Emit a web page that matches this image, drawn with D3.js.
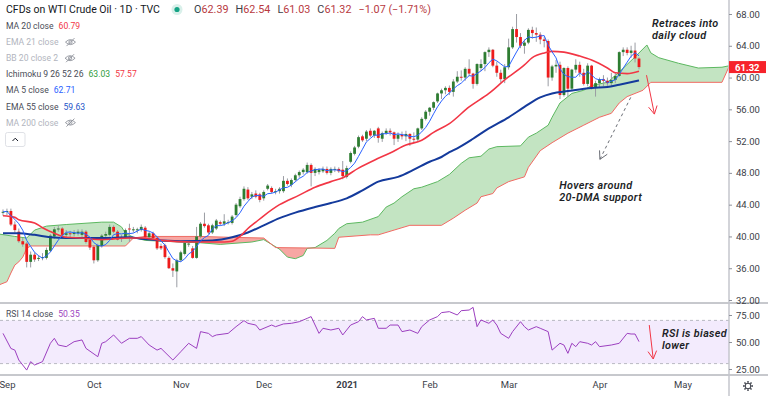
<!DOCTYPE html>
<html>
<head>
<meta charset="utf-8">
<script src="https://cdn.jsdelivr.net/npm/d3@7"></script>
<style>
  body { margin: 0; background: #fff; }
  svg text { font-family: Roboto, "Noto Sans", sans-serif; }
</style>
</head>
<body>
<svg id="chart" width="768" height="396"></svg>
<script>
// ---- data (bar index 0 = 31 Aug 2020, 161 = 21 Apr 2021) ----
// [open, high, low, close]
const candles = [
  [43.0,43.4,42.6,43.1],[43.1,43.5,42.7,43.2],[43.2,43.5,41.3,41.5],[41.5,41.9,40.5,40.8],[40.6,41.0,39.2,39.4],
  [39.4,39.8,38.7,39.0],[39.1,39.3,36.1,36.8],[36.8,38.1,36.1,37.7],[37.7,38.0,36.8,37.1],[37.2,37.6,36.9,37.3],
  [37.3,37.9,37.0,37.4],[37.3,38.6,37.1,38.3],[38.2,40.3,38.0,40.1],[40.0,41.2,39.7,40.9],[40.9,41.4,40.6,41.0],
  [41.0,41.2,40.0,40.2],[40.2,40.8,39.8,40.4],[40.4,40.7,39.9,40.3],[40.3,40.8,40.0,40.5],[40.4,40.9,40.1,40.6],
  [40.2,40.9,39.9,40.6],[40.6,40.8,39.1,39.3],[39.6,39.9,38.3,38.6],[38.7,38.9,36.6,37.0],[37.0,39.1,36.8,38.9],
  [38.8,40.3,38.6,40.1],[40.1,40.6,39.7,40.3],[40.2,41.5,40.0,41.2],[41.2,41.4,40.4,40.6],[40.6,40.8,39.5,39.6],
  [39.7,40.2,39.3,39.9],[39.9,41.0,39.7,40.8],[41.0,41.6,39.3,40.9],[40.9,41.2,40.5,40.9],[40.8,41.1,40.4,40.9],
  [40.8,41.5,40.6,41.2],[41.1,41.3,39.7,39.9],[39.9,40.6,39.6,40.4],[40.4,40.6,39.6,39.8],[39.8,40.0,38.3,38.5],
  [38.8,39.1,38.3,38.5],[38.9,39.1,37.2,37.4],[37.3,37.5,35.9,36.0],[36.0,36.6,34.9,35.7],[35.6,37.2,33.6,37.0],
  [37.0,38.2,36.8,38.0],[37.8,39.4,37.6,39.2],[39.0,39.4,38.7,39.1],[38.5,38.8,37.2,37.3],[37.3,41.2,37.2,40.0],
  [40.0,41.8,39.8,41.6],[41.6,43.0,41.1,41.3],[41.4,41.6,40.3,40.5],[40.5,41.6,40.3,41.4],[41.0,42.2,40.8,42.0],
  [41.8,42.0,41.4,41.6],[41.6,42.8,41.3,41.9],[41.8,42.1,41.5,41.8],[41.7,42.7,41.5,42.5],[42.7,44.2,42.5,44.0],
  [43.8,45.0,43.6,44.7],[44.7,46.3,44.5,46.0],[45.9,46.2,44.6,44.8],[45.0,45.6,44.7,45.3],[45.4,45.8,44.8,45.0],
  [45.3,45.5,44.3,44.6],[44.8,45.8,44.5,45.6],[46.0,46.6,45.8,46.4],[46.1,46.3,45.4,45.6],[45.6,46.0,45.3,45.7],
  [45.7,46.2,45.4,46.0],[45.7,47.6,45.5,47.0],[47.0,47.3,46.4,46.6],[46.5,47.3,46.2,47.1],[47.1,47.9,46.9,47.7],
  [47.7,48.3,47.4,48.1],[48.1,48.6,47.8,48.4],[48.1,49.3,47.9,49.0],[49.0,49.2,46.3,48.0],[48.0,48.7,47.6,48.5],
  [48.1,48.6,47.8,48.4],[48.2,48.8,48.0,48.5],[48.5,48.8,47.8,48.0],[48.0,48.7,47.7,48.5],[48.4,48.8,48.1,48.5],
  [48.5,48.7,48.0,48.2],[48.4,49.5,47.2,47.6],[47.5,48.9,47.3,48.6],[49.4,50.7,49.2,50.5],[50.4,51.4,50.2,51.2],
  [51.3,52.7,51.1,52.5],[52.6,52.8,51.9,52.1],[52.3,53.4,52.0,53.2],[53.3,53.6,52.5,52.7],[52.7,53.4,52.4,53.3],
  [53.6,53.8,51.8,52.4],[52.3,53.2,51.9,53.0],[53.0,53.6,52.8,53.3],[53.3,53.6,52.7,53.1],[53.1,53.2,51.5,52.3],
  [52.3,53.1,51.9,52.8],[52.8,53.2,52.2,52.6],[52.6,53.3,52.0,52.9],[52.9,53.0,51.4,52.3],[52.3,53.1,51.8,52.2],
  [52.2,53.7,51.9,53.6],[53.6,55.0,53.4,54.8],[54.8,55.9,54.6,55.7],[55.7,56.3,55.2,56.2],[56.2,57.0,55.9,56.9],
  [57.0,58.1,56.8,58.0],[58.0,58.6,57.3,58.4],[58.4,58.9,57.9,58.7],[58.7,59.0,57.8,58.2],[58.2,59.8,57.6,59.5],
  [59.5,60.8,59.3,60.1],[60.1,60.9,59.6,60.0],[60.0,61.3,59.6,61.1],[61.1,62.3,60.2,60.5],[60.5,60.6,58.6,59.2],
  [59.2,61.8,59.0,61.7],[61.2,62.3,60.8,61.7],[61.7,63.3,60.8,63.2],[63.2,63.8,62.6,63.5],[63.5,63.6,61.3,61.5],
  [61.5,62.0,60.1,60.6],[60.6,61.0,59.4,59.8],[59.8,61.7,59.3,61.3],[61.3,64.9,61.0,63.8],[63.8,66.4,63.6,66.1],
  [66.1,68.0,64.4,65.1],[65.1,65.6,63.7,64.0],[64.0,64.8,63.0,64.4],[64.4,66.2,64.2,66.0],[66.0,66.4,64.9,65.6],
  [65.6,66.3,64.5,65.4],[65.4,65.7,64.2,64.8],[64.8,65.1,63.8,64.6],[64.6,64.8,58.9,60.0],[60.0,61.6,59.6,61.4],
  [61.4,62.2,60.6,61.6],[61.6,62.0,57.3,57.8],[57.8,61.3,57.6,61.2],[61.2,61.4,57.6,58.6],[58.6,61.1,58.3,61.0],
  [61.0,62.3,60.6,61.6],[61.6,62.0,60.1,60.6],[60.6,61.1,59.0,59.2],[59.2,61.8,58.9,61.5],[61.5,61.6,58.5,58.7],
  [58.7,59.6,57.6,59.3],[59.3,60.0,58.8,59.8],[59.8,60.3,58.9,59.6],[59.6,60.0,58.8,59.3],[59.3,60.6,58.9,59.7],
  [59.7,60.6,59.3,60.2],[60.2,63.3,60.1,63.2],[63.2,63.8,62.7,63.5],[63.5,63.8,62.8,63.1],[63.1,64.0,62.5,63.4],
  [63.4,64.4,61.9,62.4],[62.39,62.54,61.03,61.32]
];

// [bar, value]
const ma20 = [[0,42.6],[3,42.4],[4,42.1],[8,41.7],[10,41.1],[13,40.4],[16,39.9],[20,39.8],[25,39.6],[28,39.7],
  [32,39.8],[35,39.8],[40,39.5],[48,39.3],[56,39.3],[58,39.4],[60,40.0],[62,41.0],[64,41.8],[66,42.6],[70,44.0],
  [75,45.2],[79,46.2],[83,46.9],[86,47.4],[90,48.6],[94,49.6],[98,50.5],[102,51.5],[106,52.1],[109,53.1],[113,54.2],
  [118,56.3],[123,58.0],[127,59.7],[132,61.6],[134,62.5],[137,63.1],[139,63.3],[142,63.2],[146,62.7],[149,62.2],
  [153,61.2],[155,60.6],[158,60.5],[161,60.79]];

const ema55 = [[0,40.4],[4,40.4],[8,40.2],[12,39.9],[16,39.8],[25,39.8],[32,39.9],[35,39.7],[45,39.4],[53,39.5],
  [58,39.9],[62,40.5],[66,41.4],[70,42.3],[74,43.0],[79,43.7],[83,44.2],[87,44.8],[91,45.8],[95,46.9],[100,47.5],
  [104,48.4],[108,49.4],[111,50.0],[113,50.6],[115,51.1],[119,52.3],[123,53.6],[128,55.0],[132,56.3],[136,57.5],
  [139,58.0],[143,58.3],[149,58.7],[153,58.8],[156,59.1],[161,59.63]];

// Ichimoku leading spans, already shifted 26 bars forward
const spanA = [[-1,40.3],[3,40.0],[6,39.8],[8,40.8],[11,41.3],[16,41.5],[25,41.8],[28,41.8],[30,41.2],[31,40.4],
  [33,39.9],[36,39.5],[45,39.3],[50,39.2],[55,39.0],[63,39.3],[66,39.6],[68,39.0],[70,38.4],[72,37.4],[74,37.2],
  [76,37.6],[77,38.5],[79,38.6],[82,39.5],[84,40.4],[85,41.0],[87,41.6],[91,41.8],[95,42.5],[97,43.7],[99,44.2],
  [101,45.0],[104,46.0],[106,46.2],[110,46.9],[113,47.8],[116,49.2],[118,49.9],[121,50.1],[123,51.0],[125,51.3],
  [131,51.4],[133,52.5],[135,53.0],[138,54.0],[139,55.0],[141,56.8],[144,58.0],[147,58.4],[149,59.0],[153,59.4],
  [156,60.7],[160,62.6],[163,64.1],[164,63.1],[166,62.5],[171,61.8],[176,61.2],[182,61.3],[184,61.5],[187,61.5]];

const spanB = [[-1,33.9],[1,34.3],[2,35.4],[3,36.4],[4,36.8],[5,37.4],[6,38.5],[7,38.8],[31,38.8],[33,39.8],
  [36,40.0],[50,40.0],[57,39.9],[66,39.8],[69,38.6],[84,38.5],[85,39.9],[93,40.2],[95,40.2],[99,40.8],[103,41.4],
  [111,41.4],[114,42.3],[117,43.3],[120,44.2],[121,45.0],[124,45.4],[125,46.1],[128,46.9],[132,47.5],[133,48.7],
  [136,50.8],[139,51.8],[143,53.0],[147,54.0],[151,55.0],[154,55.5],[156,56.8],[158,57.6],[162,58.4],[164,59.4],
  [182,59.4],[184,61.6],[187,61.6]];

const rsi = [[0,58],[2,44],[3,42.5],[4,33.3],[6,24],[7,31.8],[8,28.7],[10,31.8],[12,48.8],[13,53.4],[14,47.2],
  [16,45.7],[18,50.3],[20,51.9],[21,44.1],[24,36.4],[25,48.8],[26,50.3],[28,56.5],[30,48.8],[32,53.4],[34,53.4],
  [35,55],[37,47.2],[39,42.5],[40,44.1],[43,33.3],[45,41],[47,48.8],[49,44.1],[50,59.6],[52,58],[53,55],[54,56.5],
  [57,58],[59,64.2],[61,69.8],[62,67.3],[64,65.7],[65,61.1],[68,65.7],[69,64.2],[71,66.7],[73,67.3],[75,68.8],
  [77,71.9],[78,73.5],[80,58],[81,62.7],[83,61.1],[85,62.7],[86,56.5],[88,65.7],[90,68.8],[91,73.5],[92,70.4],
  [94,71.9],[95,62.7],[97,62.7],[98,65.7],[100,65.7],[101,59.6],[103,61.1],[105,58],[106,64.2],[108,70.4],
  [110,73.5],[111,77.2],[113,78.1],[115,75],[116,79],[118,79.6],[119,82.1],[120,64.2],[121,70.4],[123,67.3],
  [124,70.4],[125,65.7],[126,58],[128,53.4],[129,59.6],[131,68.8],[132,64.2],[133,61.1],[135,64.2],[136,62.7],
  [138,59.6],[139,42.5],[141,48.8],[142,47.2],[143,39.5],[144,48.8],[145,45.7],[146,50.3],[148,48.8],[149,47.2],
  [150,50.3],[151,45.7],[154,47.2],[156,48.8],[158,58],[159,57.4],[160,57.4],[161,50.35]];

const priceTicks = [32, 36, 40, 44, 48, 52, 56, 60, 64, 68];
const rsiTicks = [25, 50, 75];
const monthLabels = ["Sep", "Oct", "Nov", "Dec", "2021", "Feb", "Mar", "Apr", "May"];
const monthBars = [1, 23, 45, 66, 87, 108, 128, 151, 172];
const lastClose = 61.32;

const legendRows = [
  {label: "MA 20 close", values: [["60.79", "#f23645"]]},
  {label: "EMA 21 close", hidden: true},
  {label: "BB 20 close 2", hidden: true},
  {label: "Ichimoku 9 26 52 26", values: [["63.03", "#2e9c3a"], ["57.57", "#f23645"]]},
  {label: "MA 5 close", values: [["62.71", "#2962ff"]]},
  {label: "EMA 55 close", values: [["59.63", "#2454c8"]]},
  {label: "MA 200 close", hidden: true}
];
const ohlc = [["O", "62.39"], ["H", "62.54"], ["L", "61.03"], ["C", "61.32"], ["", "\u22121.07 (\u22121.71%)"]];

// annotations, in [bar, price] / [bar, rsi]
const retraceArrow = [[162.9, 60.3], [164.9, 55.4]];
const hoverArrow = [[158.9, 57.5], [151.1, 49.7]];
const rsiArrow = [[163.6, 65.7], [164.6, 34.3]];
const retraceText = {at: [164.3, 66.4], lines: ["Retraces into", "daily cloud"]};
const hoverText = {at: [140.8, 46.0], lines: ["Hovers around", "20-DMA support"]};
const rsiText = {at: [166.8, 55.0], lines: ["RSI is biased", "lower"]};

// ---- drawing ----
const W = 768, H = 396;
const axisX = 729;
const up = "#2e7d32", down = "#ee1c1c";
const svg = d3.select("#chart");

const x = d3.scaleLinear().domain([0, candles.length - 1]).range([3, 639]);
const y = d3.scaleLinear().domain([32, 68]).range([300, 14]);
const yr = d3.scaleLinear().domain([25, 75]).range([369, 315]);

const defs = svg.append("defs");
defs.append("clipPath").attr("id", "clip-price")
  .append("rect").attr("x", 0).attr("y", 0).attr("width", axisX).attr("height", 302);
defs.append("clipPath").attr("id", "clip-rsi")
  .append("rect").attr("x", 0).attr("y", 304).attr("width", axisX).attr("height", 70);

// Ichimoku cloud: one polygon, coloured by which side of span B it lies on
const ptsA = spanA.map(d => [x(d[0]), y(d[1])]);
const ptsB = spanB.map(d => [x(d[0]), y(d[1])]);
const xl = x(-2), xr = x(190);
const cloudPath = "M" + ptsA.join("L") + "L" + ptsB.slice().reverse().join("L") + "Z";
defs.append("clipPath").attr("id", "above-b")
  .append("path").attr("d", "M" + ptsB.join("L") + `L${xr},-50L${xl},-50Z`);
defs.append("clipPath").attr("id", "below-b")
  .append("path").attr("d", "M" + ptsB.join("L") + `L${xr},${H + 50}L${xl},${H + 50}Z`);

const gp = svg.append("g").attr("clip-path", "url(#clip-price)");
gp.append("g").attr("clip-path", "url(#above-b)")
  .append("path").attr("d", cloudPath).attr("fill", "#c3e4c2");
gp.append("g").attr("clip-path", "url(#below-b)")
  .append("path").attr("d", cloudPath).attr("fill", "#f7a7a3");

const line = d3.line().x(d => x(d[0])).y(d => y(d[1]));
gp.append("path").attr("d", line(spanA)).attr("fill", "none").attr("stroke", "#5cb860").attr("stroke-width", 1);
gp.append("path").attr("d", line(spanB)).attr("fill", "none").attr("stroke", "#ef6b63").attr("stroke-width", 1);

// candles
const bw = 2.8;
gp.append("g").selectAll("line").data(candles).join("line")
  .attr("x1", (d, i) => x(i)).attr("x2", (d, i) => x(i))
  .attr("y1", d => y(d[1])).attr("y2", d => y(d[2]))
  .attr("stroke", "#9a9ca3").attr("stroke-width", 1);
gp.append("g").selectAll("rect").data(candles).join("rect")
  .attr("x", (d, i) => x(i) - bw / 2).attr("width", bw)
  .attr("y", d => y(Math.max(d[0], d[3])))
  .attr("height", d => Math.max(1, Math.abs(y(d[0]) - y(d[3]))))
  .attr("fill", d => d[3] >= d[0] ? up : down);

// moving averages
const smooth = d3.line().x(d => x(d[0])).y(d => y(d[1])).curve(d3.curveMonotoneX);
gp.append("path").attr("d", smooth(ema55)).attr("fill", "none").attr("stroke", "#143a9c").attr("stroke-width", 2);
gp.append("path").attr("d", smooth(ma20)).attr("fill", "none").attr("stroke", "#f23645").attr("stroke-width", 1.6);
const closes = candles.map(d => d[3]);
const ma5 = closes.map((c, i) => [i, d3.mean(closes.slice(Math.max(0, i - 4), i + 1))]);
gp.append("path").attr("d", line(ma5)).attr("fill", "none").attr("stroke", "#2962ff").attr("stroke-width", 1);

// RSI pane
const gr = svg.append("g").attr("clip-path", "url(#clip-rsi)");
gr.append("rect").attr("x", 0).attr("width", axisX)
  .attr("y", yr(70)).attr("height", yr(30) - yr(70)).attr("fill", "#f3ebfd");
[70, 30].forEach(v => gr.append("line").attr("x1", 0).attr("x2", axisX).attr("y1", yr(v)).attr("y2", yr(v))
  .attr("stroke", "#a8aab3").attr("stroke-dasharray", "3,3").attr("stroke-width", 0.8));
gr.append("path").attr("d", d3.line().x(d => x(d[0])).y(d => yr(d[1]))(rsi))
  .attr("fill", "none").attr("stroke", "#9c3fc0").attr("stroke-width", 1);

// frame
svg.append("line").attr("x1", 0).attr("x2", W).attr("y1", 303).attr("y2", 303).attr("stroke", "#8f929b");
svg.append("line").attr("x1", 0).attr("x2", W).attr("y1", 375).attr("y2", 375).attr("stroke", "#8f929b");
svg.append("line").attr("x1", axisX).attr("x2", axisX).attr("y1", 0).attr("y2", H).attr("stroke", "#c4c6cc").attr("stroke-width", 1.5);

// axes
function styleAxis(g) {
  g.select(".domain").remove();
  g.selectAll("line").attr("stroke", "#8f929b");
  g.selectAll("text").attr("fill", "#3b3e48").attr("font-size", 9.5).attr("font-family", "Roboto, sans-serif");
}
svg.append("g").attr("transform", `translate(${axisX},0)`)
  .call(d3.axisRight(y).tickValues(priceTicks).tickFormat(d3.format(".2f")).tickSize(3).tickPadding(4))
  .call(styleAxis);
svg.append("g").attr("transform", `translate(${axisX},0)`)
  .call(d3.axisRight(yr).tickValues(rsiTicks).tickFormat(d3.format(".2f")).tickSize(3).tickPadding(4))
  .call(styleAxis);
const xa = svg.append("g").attr("transform", "translate(0,375)")
  .call(d3.axisBottom(x).tickValues(monthBars).tickFormat((d, i) => monthLabels[i]).tickSize(0).tickPadding(6))
  .call(styleAxis);
xa.selectAll("text").filter(d => d === 87).attr("font-weight", "bold");

// last price badge
const by = y(lastClose);
svg.append("rect").attr("x", axisX).attr("y", by - 6).attr("width", 37).attr("height", 12).attr("fill", "#f6232b");
svg.append("text").attr("x", axisX + 6).attr("y", by + 3.5).attr("fill", "#fff")
  .attr("font-size", 9.5).attr("font-weight", "bold").text(lastClose.toFixed(2));

// gear icon
const gear = svg.append("g").attr("transform", "translate(748,386)").attr("stroke", "#3b3e48").attr("fill", "none");
gear.append("circle").attr("r", 2.8).attr("stroke-width", 1.1);
d3.range(8).forEach(k => {
  const a = k * Math.PI / 4;
  gear.append("line").attr("x1", Math.cos(a) * 3.3).attr("y1", Math.sin(a) * 3.3)
    .attr("x2", Math.cos(a) * 5).attr("y2", Math.sin(a) * 5).attr("stroke-width", 1.4);
});

// annotations
function arrow(p0, p1, sy, color, dash) {
  const x0 = x(p0[0]), y0 = sy(p0[1]), x1 = x(p1[0]), y1 = sy(p1[1]);
  svg.append("line").attr("x1", x0).attr("y1", y0).attr("x2", x1).attr("y2", y1)
    .attr("stroke", color).attr("stroke-width", 1).attr("stroke-dasharray", dash || null);
  const ang = Math.atan2(y1 - y0, x1 - x0), len = 9;
  [-0.5, 0.5].forEach(da => svg.append("line").attr("x1", x1).attr("y1", y1)
    .attr("x2", x1 - len * Math.cos(ang + da)).attr("y2", y1 - len * Math.sin(ang + da))
    .attr("stroke", color).attr("stroke-width", 1));
}
arrow(retraceArrow[0], retraceArrow[1], y, "#f23645");
arrow(hoverArrow[0], hoverArrow[1], y, "#6a6d75", "3,3");
arrow(rsiArrow[0], rsiArrow[1], yr, "#f23645");

// each line its own text element
function note(t, sy) {
  t.lines.forEach((s, i) => svg.append("text")
    .attr("x", x(t.at[0])).attr("y", sy(t.at[1]) + i * 12)
    .attr("font-size", 10.8).attr("letter-spacing", 0.35).attr("font-style", "italic").attr("font-weight", 600)
    .attr("font-family", "'Open Sans', sans-serif").attr("fill", "#1c1e26").text(s));
}
note(retraceText, y);
note(hoverText, y);
note(rsiText, yr);

// legend
const leg = svg.append("g");
leg.append("text").attr("x", 6).attr("y", 13).attr("font-size", 10.5).attr("fill", "#131722")
  .text("CFDs on WTI Crude Oil \u00b7 1D \u00b7 TVC");
leg.append("circle").attr("cx", 177).attr("cy", 9.5).attr("r", 5.5).attr("fill", "#d9f0ea");
leg.append("circle").attr("cx", 177).attr("cy", 9.5).attr("r", 2.6).attr("fill", "#15a385");
const ot = leg.append("text").attr("x", 194).attr("y", 13).attr("font-size", 10.8).attr("fill", "#b83a3f");
ohlc.forEach((d, i) => {
  const gap = i ? 7 : 0;
  if (d[0]) ot.append("tspan").attr("dx", gap).attr("fill", "#3b3e48").text(d[0]);
  ot.append("tspan").attr("dx", d[0] ? 0 : gap).attr("fill", "#b83a3f").text(d[1]);
});

legendRows.forEach((r, k) => {
  const yy = 29 + k * 16.1;
  const t = leg.append("text").attr("x", 6).attr("y", yy).attr("font-size", 8.6)
    .attr("fill", r.hidden ? "#b2b5be" : "#4a4d57").text(r.label);
  (r.values || []).forEach(v => t.append("tspan").attr("dx", 5).attr("fill", v[1]).text(v[0]));
  if (r.hidden) {
    const ex = 6 + t.node().getComputedTextLength() + 12, ey = yy - 3;
    const e = leg.append("g").attr("transform", `translate(${ex},${ey})`)
      .attr("fill", "none").attr("stroke", "#8f929b").attr("stroke-width", 0.9);
    e.append("path").attr("d", "M-5,0Q0,-5 5,0Q0,5 -5,0Z");
    e.append("circle").attr("r", 1.6);
    e.append("line").attr("x1", -4).attr("y1", 4).attr("x2", 4).attr("y2", -4);
  }
});
leg.append("rect").attr("x", 5.5).attr("y", 132.5).attr("width", 19.5).attr("height", 14).attr("rx", 2)
  .attr("fill", "#fff").attr("stroke", "#dfe1e6");
leg.append("path").attr("d", "M12.5,141L15.25,138.2L18,141").attr("fill", "none").attr("stroke", "#131722").attr("stroke-width", 1);

// RSI legend
const rl = svg.append("text").attr("x", 6).attr("y", 317).attr("font-size", 8.6).attr("fill", "#4a4d57").text("RSI 14 close");
rl.append("tspan").attr("dx", 5).attr("fill", "#9c3fc0").text("50.35");
</script>
</body>
</html>
